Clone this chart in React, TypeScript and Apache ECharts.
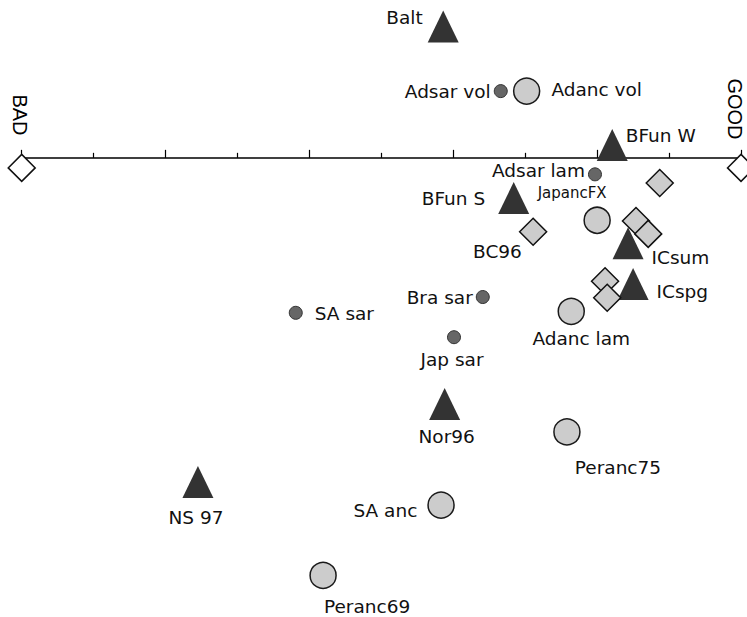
import React, { useEffect, useRef } from "react";
import * as echarts from "echarts";

// Triangles (dark)
const triNames = ["Balt", "BFun W", "BFun S", "ICsum", "ICspg", "Nor96", "NS 97"];
const triX = [5.86, 8.21, 6.84, 8.43, 8.5, 5.88, 2.45];
const triY = [1.83, 0.18, -0.56, -1.19, -1.76, -3.43, -4.52];

// Large light circles
const circNames = ["Adanc vol", "JapancFX", "Adanc lam", "Peranc75", "SA anc", "Peranc69"];
const circX = [7.02, 8.0, 7.64, 7.58, 5.83, 4.19];
const circY = [0.93, -0.87, -2.14, -3.82, -4.84, -5.82];

// Small dark dots
const dotNames = ["Adsar vol", "Adsar lam", "Bra sar", "Jap sar", "SA sar"];
const dotX = [6.66, 7.97, 6.41, 6.01, 3.81];
const dotY = [0.93, -0.23, -1.94, -2.5, -2.16];

// Grey diamonds
const diaNames = ["BC96", "", "", "", "", ""];
const diaX = [7.11, 8.87, 8.54, 8.71, 8.11, 8.14];
const diaY = [-1.03, -0.35, -0.88, -1.06, -1.72, -1.95];

// End markers (scale extremes)
const endNames = ["BAD", "GOOD"];
const endX = [0, 10];
const endY = [-0.14, -0.14];

// Label placement (style only)
const labelPlace: Record<string, any> = {
  Balt: { position: "left", distance: 5, offset: [0, -9] },
  "BFun W": { position: "right", distance: -2, offset: [0, -9] },
  "BFun S": { position: "left", distance: 13, offset: [0, 0] },
  ICsum: { position: "right", distance: 8, offset: [0, 14] },
  ICspg: { position: "right", distance: 8, offset: [0, 7] },
  Nor96: { position: "bottom", distance: 7, offset: [2, 0] },
  "NS 97": { position: "bottom", distance: 10, offset: [-2, 0] },
  "Adanc vol": { position: "right", distance: 11, offset: [0, -2] },
  JapancFX: { position: "top", distance: 6, offset: [-25, 0], fontSize: 15 },
  "Adanc lam": { position: "bottom", distance: 4, offset: [10, 0] },
  Peranc75: { position: "bottom", distance: 12, offset: [51, 0] },
  "SA anc": { position: "left", distance: 10, offset: [0, 5] },
  Peranc69: { position: "bottom", distance: 8, offset: [44, 0] },
  "Adsar vol": { position: "left", distance: 3, offset: [0, 0] },
  "Adsar lam": { position: "left", distance: 3, offset: [0, -4] },
  "Bra sar": { position: "left", distance: 3, offset: [0, 0] },
  "Jap sar": { position: "bottom", distance: 6, offset: [-2, 0] },
  "SA sar": { position: "right", distance: 12, offset: [0, 1] },
  BC96: { position: "left", distance: -3, offset: [0, 20] },
};

const FONT = "DejaVu Sans";

function build(names: string[], xs: number[], ys: number[]) {
  return names.map((n, i) => {
    const lp = labelPlace[n];
    const item: any = { name: n, value: [xs[i], ys[i]] };
    if (lp) {
      item.label = {
        show: true,
        formatter: n,
        position: lp.position,
        distance: lp.distance,
        offset: lp.offset,
        fontSize: lp.fontSize ?? 18.5,
        fontFamily: FONT,
        color: "#111111",
      };
    }
    return item;
  });
}

export default function App() {
  const ref = useRef<HTMLDivElement>(null);
  useEffect(() => {
    if (!ref.current) return;
    const chart = echarts.init(ref.current, null, { renderer: "svg" });
    chart.setOption({
      animation: false,
      backgroundColor: "#ffffff",
      grid: { left: 21.7, right: 6, top: 0, bottom: 0 },
      xAxis: {
        type: "value",
        min: 0,
        max: 10,
        interval: 2,
        axisLine: { show: true, onZero: true, lineStyle: { color: "#000", width: 1.5 } },
        axisTick: { show: true, inside: true, length: 8, lineStyle: { color: "#000", width: 1.2 } },
        minorTick: { show: true, splitNumber: 2, length: 5, lineStyle: { color: "#000", width: 1.2 } },
        axisLabel: { show: false },
        splitLine: { show: false },
        minorSplitLine: { show: false },
      },
      yAxis: {
        type: "value",
        min: -6.4,
        max: 2.2,
        show: false,
        splitLine: { show: false },
      },
      series: [
        {
          type: "scatter",
          clip: false,
          symbol: "triangle",
          symbolSize: [31, 32],
          itemStyle: { color: "#333333", opacity: 1 },
          data: build(triNames, triX, triY),
        },
        {
          type: "scatter",
          clip: false,
          symbol: "circle",
          symbolSize: 26,
          itemStyle: { color: "#cccccc", borderColor: "#1a1a1a", borderWidth: 1.5, opacity: 1 },
          data: build(circNames, circX, circY),
        },
        {
          type: "scatter",
          clip: false,
          symbol: "circle",
          symbolSize: 13,
          itemStyle: { color: "#666666", borderColor: "#333333", borderWidth: 1, opacity: 1 },
          data: build(dotNames, dotX, dotY),
        },
        {
          type: "scatter",
          clip: false,
          symbol: "diamond",
          symbolSize: 27,
          itemStyle: { color: "#cccccc", borderColor: "#111111", borderWidth: 1.5, opacity: 1 },
          data: build(diaNames, diaX, diaY),
        },
        {
          type: "scatter",
          clip: false,
          symbol: "diamond",
          symbolSize: 27,
          itemStyle: { color: "#ffffff", borderColor: "#111111", borderWidth: 1.5, opacity: 1 },
          data: endNames.map((n, i) => ({ name: n, value: [endX[i], endY[i]] })),
        },
      ],
      graphic: [
        {
          type: "text",
          x: 19.5,
          y: 115,
          rotation: -Math.PI / 2,
          style: {
            text: endNames[0],
            fontFamily: "Liberation Sans",
            fontSize: 20,
            fill: "#000",
            textAlign: "center",
            textVerticalAlign: "middle",
          },
        },
        {
          type: "text",
          x: 735,
          y: 109,
          rotation: -Math.PI / 2,
          style: {
            text: endNames[1],
            fontFamily: "Liberation Sans",
            fontSize: 20,
            fill: "#000",
            textAlign: "center",
            textVerticalAlign: "middle",
          },
        },
      ],
    });
    return () => chart.dispose();
  }, []);
  return (
    <div
      ref={ref}
      style={{ position: "absolute", left: 0, top: 0, width: 747, height: 617 }}
    />
  );
}
